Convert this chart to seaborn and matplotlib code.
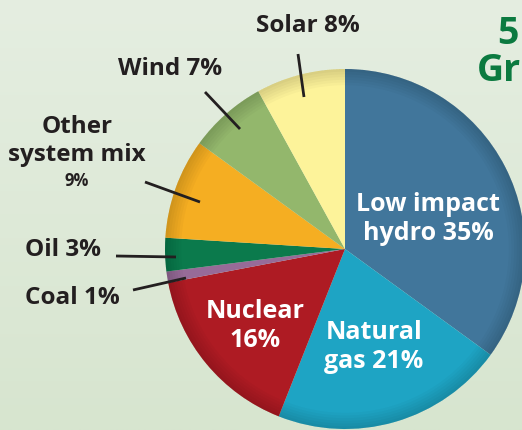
import matplotlib
matplotlib.use("Agg")
import matplotlib.pyplot as plt
from matplotlib.patches import Wedge
import numpy as np
import seaborn as sns

# data, clockwise from 12 o'clock
sources = ["Low impact hydro", "Natural gas", "Nuclear", "Coal", "Oil",
           "Other system mix", "Wind", "Solar"]
shares = [35, 21, 16, 1, 3, 9, 7, 8]
colors = ["#41769b", "#1ea4c4", "#ae1b23", "#976b98", "#0b7a4c",
          "#f5ae22", "#93b76c", "#fdf39a"]

sns.set_theme(style="white")
plt.rcParams['font.family'] = ['Open Sans', 'DejaVu Sans']

W, H = 522, 431
CX, CY, R = 345, 250, 180   # pie centre / radius in pixels


def px(x, y):
    # pixel position -> data coords (pie radius = 1)
    return (x - CX) / R, (CY - y) / R


fig = plt.figure(figsize=(W / 100, H / 100), dpi=100)
ax = fig.add_axes([0, 0, 1, 1])
xl = (-CX / R, (W - CX) / R)
yl = (-(H - CY) / R, CY / R)

# soft green background, lighter at the top
grad = np.linspace(0, 1, 256).reshape(-1, 1)
bg = sns.blend_palette(["#e5eee1", "#d7e5cf"], as_cmap=True)
ax.imshow(grad, extent=[*xl, *yl], cmap=bg, aspect="auto", zorder=0)

wedges, _ = ax.pie(shares, colors=colors, startangle=90, counterclock=False,
                   radius=1, center=(0, 0), frame=True,
                   wedgeprops=dict(linewidth=0, zorder=2))
ax.set_xlim(*xl)
ax.set_ylim(*yl)
ax.axis("off")

# darken rim a little to fake the shading
for k in range(6):
    ax.add_patch(Wedge((0, 0), 1, 0, 360, width=0.015 + 0.015 * k,
                       facecolor="black", alpha=0.025, lw=0, zorder=3))

dark = "#231f20"
inside = [("Low impact\nhydro 35%", 428, 219),
          ("Natural\ngas 21%", 374, 347),
          ("Nuclear\n16%", 255, 326)]
for txt, x, y in inside:
    ax.text(*px(x, y), txt, color="white", fontsize=18, weight="bold",
            ha="center", va="center", linespacing=1.25, zorder=5)

outside = [("Solar 8%", 308, 26), ("Wind 7%", 170, 69),
           ("Other\nsystem mix", 77, 141), ("Oil 3%", 63, 250),
           ("Coal 1%", 72, 298)]
for txt, x, y in outside:
    ax.text(*px(x, y), txt, color=dark, fontsize=17.5, weight="bold",
            ha="center", va="center", linespacing=1.25, zorder=5)
ax.text(*px(77, 181), "9%", color=dark, fontsize=12, weight="bold",
        ha="center", va="center", zorder=5)

leaders = [((298, 55), (304, 98)), ((205, 93), (240, 130)),
           ((145, 183), (200, 203)), ((116, 257), (176, 258)),
           ((133, 291), (186, 279))]
for (x0, y0), (x1, y1) in leaders:
    a, b = px(x0, y0), px(x1, y1)
    ax.plot([a[0], b[0]], [a[1], b[1]], color=dark, lw=2, zorder=6,
            solid_capstyle="butt")

# cropped heading on the right
ax.text(*px(497, 34), "5", color="#0b7a40", fontsize=27, weight="bold",
        ha="left", va="center", zorder=5)
ax.text(*px(477, 71), "Gr", color="#0b7a40", fontsize=27, weight="bold",
        ha="left", va="center", zorder=5)

fig.savefig("out.png", dpi=100)
